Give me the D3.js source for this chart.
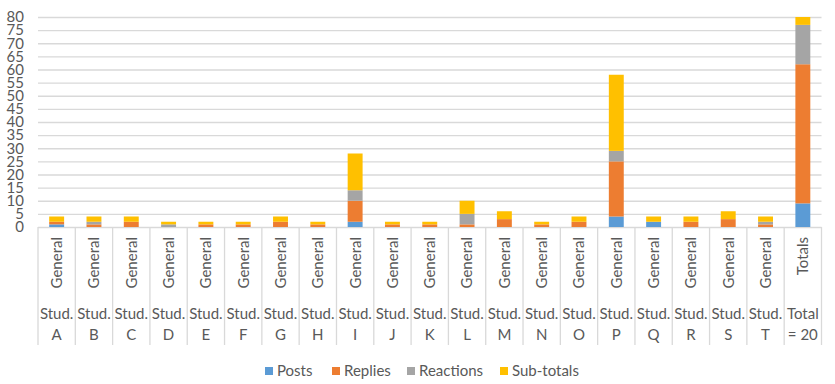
<!DOCTYPE html>
<html>
<head>
<meta charset="utf-8">
<script src="https://cdn.jsdelivr.net/npm/d3@7"></script>
<style>
  html, body { margin: 0; padding: 0; background: #fff; }
  svg { display: block; font-family: Lato, "Open Sans", sans-serif; }
</style>
</head>
<body>
<svg id="chart" width="835" height="384"></svg>
<script>
// ---- data ----
const level1 = ["General","General","General","General","General","General","General","General","General","General","General","General","General","General","General","General","General","General","General","General","Totals"];
const level2 = ["Stud.","Stud.","Stud.","Stud.","Stud.","Stud.","Stud.","Stud.","Stud.","Stud.","Stud.","Stud.","Stud.","Stud.","Stud.","Stud.","Stud.","Stud.","Stud.","Stud.","Total"];
const level3 = ["A","B","C","D","E","F","G","H","I","J","K","L","M","N","O","P","Q","R","S","T","= 20"];
const seriesNames = ["Posts","Replies","Reactions","Sub-totals"];
const posts     = [1,0,0,0,0,0,0,0,2,0,0,0,0,0,0,4,2,0,0,0,9];
const replies   = [1,1,2,0,1,1,2,1,8,1,1,1,3,1,2,21,0,2,3,1,53];
const reactions = [0,1,0,1,0,0,0,0,4,0,0,4,0,0,0,4,0,0,0,1,15];
const subtotals = [2,2,2,1,1,1,2,1,14,1,1,5,3,1,2,29,2,2,3,2,77];
const yTicks = [0,5,10,15,20,25,30,35,40,45,50,55,60,65,70,75,80];

const colors = ["#5B9BD5","#ED7D31","#A5A5A5","#FFC000"];
const textColor = "#595959";
const gridColor = "#D9D9D9";

const svg = d3.select("#chart");
const L = 38, R = 821.5, T = 17, B = 227, axisBottom = 345;

const idx = level3.map((d,i) => i);
const x = d3.scaleBand().domain(idx).range([L, R]).padding(0);
const y = d3.scaleLinear().domain([0, 80]).range([B, T]);

// gridlines
svg.append("g")
  .attr("transform", `translate(${L},0)`)
  .call(d3.axisLeft(y).tickValues(yTicks).tickSize(-(R - L)).tickFormat(""))
  .call(g => g.select(".domain").remove())
  .call(g => g.selectAll("line").attr("stroke", gridColor).attr("stroke-width", 1.3));

// y labels
svg.append("g")
  .attr("transform", `translate(${L},0)`)
  .call(d3.axisLeft(y).tickValues(yTicks).tickSize(0).tickPadding(14))
  .call(g => g.select(".domain").remove())
  .call(g => g.selectAll("text").attr("fill", textColor).attr("font-size", 15)
      .attr("font-family", "Lato, sans-serif"));

// stacked bars
const rows = idx.map(i => ({i, Posts: posts[i], Replies: replies[i], Reactions: reactions[i], "Sub-totals": subtotals[i]}));
const stack = d3.stack().keys(seriesNames)(rows);

svg.append("clipPath").attr("id", "plotclip")
  .append("rect").attr("x", L).attr("y", T).attr("width", R - L).attr("height", B - T);

const bw = x.bandwidth() * 0.4;
svg.append("g").attr("clip-path", "url(#plotclip)")
  .selectAll("g").data(stack).join("g")
  .attr("fill", (d, k) => colors[k])
  .selectAll("rect").data(d => d).join("rect")
  .attr("x", d => x(d.data.i) + (x.bandwidth() - bw) / 2)
  .attr("width", bw)
  .attr("y", d => y(d[1]))
  .attr("height", d => Math.max(0, y(d[0]) - y(d[1])));

// category separators
const bounds = idx.map(i => x(i)).concat([R]);
svg.append("g").selectAll("line").data(bounds).join("line")
  .attr("x1", d => d).attr("x2", d => d)
  .attr("y1", B).attr("y2", axisBottom)
  .attr("stroke", gridColor).attr("stroke-width", 1.3);

// level 1 rotated labels
svg.append("g").selectAll("text").data(idx).join("text")
  .attr("transform", i => `translate(${x(i) + x.bandwidth() / 2},237) rotate(-90)`)
  .attr("text-anchor", "end")
  .attr("dy", "0.36em")
  .attr("font-size", 15)
  .attr("fill", textColor)
  .text(i => level1[i]);

// level 2
svg.append("g").selectAll("text").data(idx).join("text")
  .attr("x", i => x(i) + x.bandwidth() / 2)
  .attr("y", 319)
  .attr("text-anchor", "middle")
  .attr("font-size", 15)
  .attr("fill", textColor)
  .text(i => level2[i]);

// level 3
svg.append("g").selectAll("text").data(idx).join("text")
  .attr("x", i => x(i) + x.bandwidth() / 2)
  .attr("y", 340)
  .attr("text-anchor", "middle")
  .attr("font-size", 15)
  .attr("fill", textColor)
  .text(i => level3[i]);

// legend
const legendX = [265, 332, 407, 500];
const lg = svg.append("g").selectAll("g").data(seriesNames).join("g")
  .attr("transform", (d, k) => `translate(${legendX[k]},0)`);
lg.append("rect").attr("x", 0).attr("y", 367).attr("width", 8).attr("height", 8)
  .attr("fill", (d, k) => colors[k]);
lg.append("text").attr("x", 12).attr("y", 376)
  .attr("font-size", 15).attr("fill", textColor).text(d => d);
</script>
</body>
</html>
